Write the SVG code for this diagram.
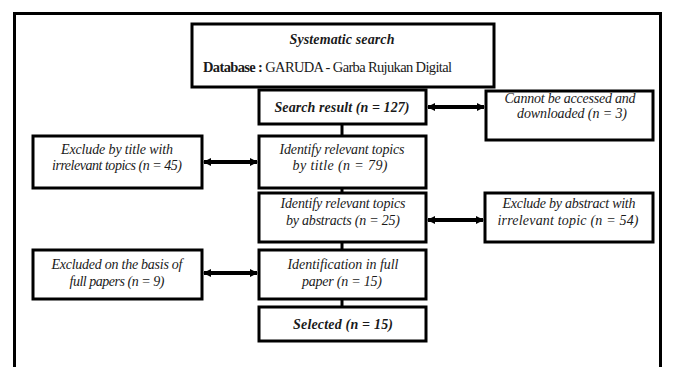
<svg xmlns="http://www.w3.org/2000/svg" width="673" height="367" viewBox="0 0 673 367">
<defs>
<style>
.box{fill:#fff;stroke:#000;stroke-width:3}
.t{font-family:"Liberation Serif","Times New Roman",serif;font-size:14px;font-style:italic;fill:#1a1a1a;text-anchor:middle}
.b{font-weight:bold}
.r{font-family:"Liberation Serif","Times New Roman",serif;font-size:14.5px;fill:#1a1a1a}
.c{stroke:#000;stroke-width:3;fill:none}
.a{stroke:#000;stroke-width:4;fill:none;marker-start:url(#h);marker-end:url(#h)}
</style>
<marker id="h" viewBox="0 0 8 8" refX="7" refY="4" markerWidth="8" markerHeight="8" markerUnits="userSpaceOnUse" orient="auto-start-reverse">
<path d="M0,0 L8,4 L0,8 Z" fill="#000"/>
</marker>
</defs>
<rect width="673" height="367" fill="#fff"/>
<path d="M14.5,367 V13.5 H660.5 V367" fill="none" stroke="#000" stroke-width="3"/>
<g id="connectors">
<line class="c" x1="342" y1="124" x2="342" y2="136"/>
<line class="c" x1="342" y1="188" x2="342" y2="193"/>
<line class="c" x1="342" y1="242" x2="342" y2="250"/>
<line class="c" x1="342" y1="299" x2="342" y2="307"/>
<line class="a" x1="428" y1="107" x2="484" y2="107"/>
<line class="a" x1="204" y1="162" x2="257" y2="162"/>
<line class="a" x1="428" y1="220" x2="483" y2="220"/>
<line class="a" x1="204" y1="273" x2="257" y2="273"/>
</g>
<g id="systematic">
<rect class="box" x="192" y="24" width="302" height="63"/>
<text class="t b" x="342" y="44" textLength="105">Systematic search</text>
<text class="r" x="203" y="72" textLength="249"><tspan font-weight="bold">Database :</tspan> GARUDA - Garba Rujukan Digital</text>
</g>
<g id="search">
<rect class="box" x="259" y="90" width="167" height="34"/>
<text class="t b" x="342" y="112" textLength="135">Search result (n = 127)</text>
</g>
<g id="cannot">
<rect class="box" x="486" y="91" width="167" height="49"/>
<text class="t" x="570" y="103" textLength="131">Cannot be accessed and</text>
<text class="t" x="572" y="118" textLength="110">downloaded  (n = 3)</text>
</g>
<g id="exclude-title">
<rect class="box" x="33" y="136" width="169" height="52"/>
<text class="t" x="117" y="154" textLength="112">Exclude by title with</text>
<text class="t" x="117" y="170" textLength="130">irrelevant topics (n = 45)</text>
</g>
<g id="identify-title">
<rect class="box" x="259" y="136" width="167" height="52"/>
<text class="t" x="342" y="154" textLength="125">Identify relevant topics</text>
<text class="t" x="340" y="170" textLength="95">by title (n = 79)</text>
</g>
<g id="identify-abstracts">
<rect class="box" x="259" y="193" width="167" height="49"/>
<text class="t" x="343" y="208" textLength="125">Identify relevant topics</text>
<text class="t" x="343" y="225" textLength="114">by abstracts (n = 25)</text>
</g>
<g id="exclude-abstract">
<rect class="box" x="485" y="193" width="168" height="49"/>
<text class="t" x="569" y="208" textLength="133">Exclude by abstract with</text>
<text class="t" x="568" y="225" textLength="141">irrelevant topic (n = 54)</text>
</g>
<g id="excluded-full">
<rect class="box" x="33" y="250" width="169" height="49"/>
<text class="t" x="117" y="269" textLength="131">Excluded on the basis of</text>
<text class="t" x="117" y="286" textLength="95">full papers (n = 9)</text>
</g>
<g id="identification">
<rect class="box" x="259" y="250" width="167" height="49"/>
<text class="t" x="343" y="269" textLength="111">Identification in full</text>
<text class="t" x="342" y="286" textLength="80">paper (n = 15)</text>
</g>
<g id="selected">
<rect class="box" x="259" y="307" width="167" height="34"/>
<text class="t b" x="343" y="329" textLength="100">Selected (n = 15)</text>
</g>
</svg>
